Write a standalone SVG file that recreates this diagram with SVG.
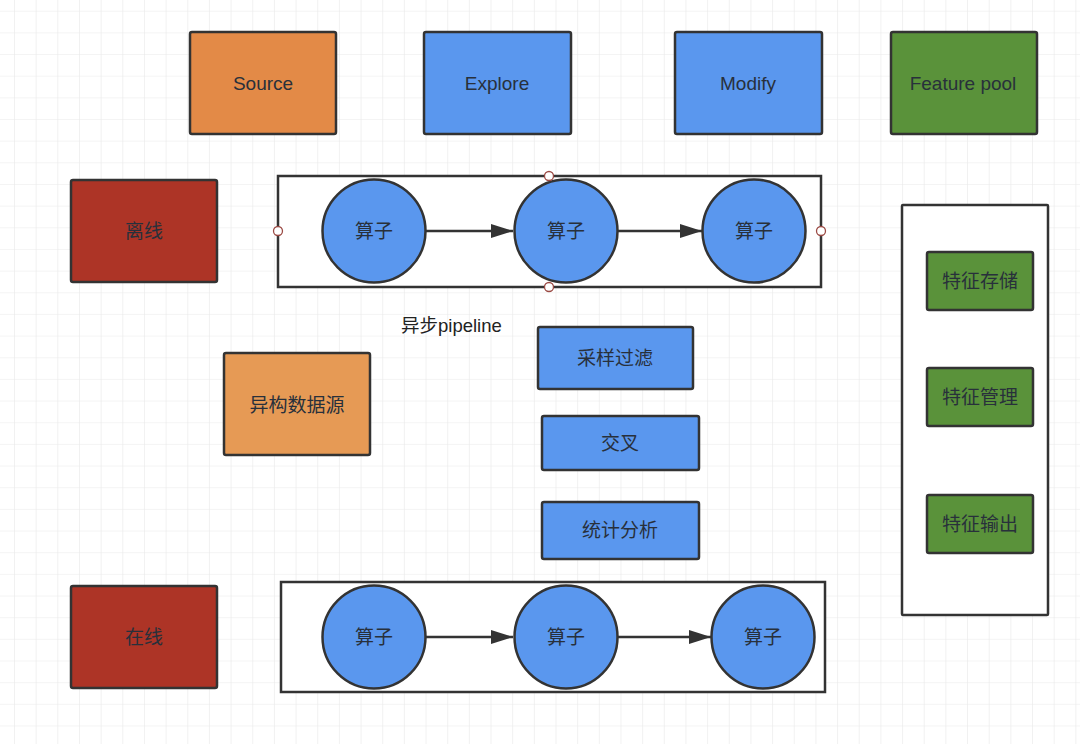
<svg xmlns="http://www.w3.org/2000/svg" width="1080" height="744" viewBox="0 0 1080 744">
  <defs>
    <pattern id="grid" x="14" y="10.7" width="21.66" height="21.66" patternUnits="userSpaceOnUse">
      <path d="M0 0V21.66M0 0H21.66" fill="none" stroke="#e9e9e9" stroke-width="1.2"/>
    </pattern>
    <marker id="arrow" viewBox="0 0 22 14" refX="22" refY="7" markerWidth="22" markerHeight="14" markerUnits="userSpaceOnUse" orient="auto">
      <path d="M0 0L22 7L0 14Z" fill="#333"/>
    </marker>
    <style>
      .box { stroke: #333; stroke-width: 2.5; }
      .frame { fill: #fff; stroke: #333; stroke-width: 2.5; }
      .orange { fill: #e38a47; }
      .orange2 { fill: #e69a55; }
      .blue { fill: #5a97ee; }
      .green { fill: #5a923a; }
      .red { fill: #ad3426; }
      .op { fill: #5a97ee; stroke: #333; stroke-width: 2.5; }
      .handle { fill: #fff; stroke: #9b4a44; stroke-width: 1.3; }
      text { font-family: "Helvetica Neue", "Liberation Sans", "Noto Sans CJK SC", sans-serif; font-size: 19px; fill: #28303b; text-anchor: middle; dominant-baseline: central; }
      .plain { font-size: 18.5px; fill: #222; text-anchor: start; }
      .link { stroke: #333; stroke-width: 2.5; fill: none; }
    </style>
  </defs>

  <rect width="1080" height="744" fill="#fff"/>
  <rect width="1080" height="744" fill="url(#grid)"/>

  <!-- top row: stages -->
  <g id="source"><rect class="box orange" x="190" y="32" width="146" height="102" rx="2"/><text x="263" y="83">Source</text></g>
  <g id="explore"><rect class="box blue" x="424" y="32" width="147" height="102" rx="2"/><text x="497" y="83">Explore</text></g>
  <g id="modify"><rect class="box blue" x="675" y="32" width="147" height="102" rx="2"/><text x="748" y="83">Modify</text></g>
  <g id="feature-pool"><rect class="box green" x="891" y="32" width="146" height="102" rx="2"/><text x="963" y="83">Feature pool</text></g>

  <!-- offline / online -->
  <g id="offline"><rect class="box red" x="71" y="180" width="146" height="102" rx="2"/><text x="144" y="231">离线</text></g>
  <g id="online"><rect class="box red" x="71" y="586" width="146" height="102" rx="2"/><text x="144" y="637">在线</text></g>
  <g id="hetero-source"><rect class="box orange2" x="224" y="353" width="146" height="102" rx="2"/><text x="297" y="405">异构数据源</text></g>

  <!-- offline pipeline -->
  <g id="offline-pipeline">
    <rect class="frame" x="278" y="176" width="543" height="111"/>
  </g>
  <g id="op1"><circle class="op" cx="374" cy="231" r="51.5"/><text x="374" y="231">算子</text></g>
  <g id="op2"><circle class="op" cx="566" cy="231" r="51.5"/><text x="566" y="231">算子</text></g>
  <g id="op3"><circle class="op" cx="754" cy="231" r="51.5"/><text x="754" y="231">算子</text></g>

  <!-- online pipeline -->
  <g id="online-pipeline">
    <rect class="frame" x="281" y="582" width="544" height="110"/>
  </g>
  <g id="op4"><circle class="op" cx="374" cy="637" r="51.5"/><text x="374" y="637">算子</text></g>
  <g id="op5"><circle class="op" cx="566" cy="637" r="51.5"/><text x="566" y="637">算子</text></g>
  <g id="op6"><circle class="op" cx="763" cy="637" r="51.5"/><text x="763" y="637">算子</text></g>

  <!-- connectors -->
  <g id="connectors">
    <line class="link" x1="426" y1="231" x2="513" y2="231" marker-end="url(#arrow)"/>
    <line class="link" x1="618" y1="231" x2="702" y2="231" marker-end="url(#arrow)"/>
    <line class="link" x1="426" y1="637" x2="513" y2="637" marker-end="url(#arrow)"/>
    <line class="link" x1="618" y1="637" x2="711" y2="637" marker-end="url(#arrow)"/>
  </g>

  <!-- selection handles on the offline pipeline frame -->
  <g id="handles">
    <circle class="handle" cx="278" cy="231" r="4.5"/>
    <circle class="handle" cx="549" cy="176" r="4.5"/>
    <circle class="handle" cx="549" cy="287" r="4.5"/>
    <circle class="handle" cx="821" cy="231" r="4.5"/>
  </g>

  <!-- async pipeline -->
  <g id="async-label"><text class="plain" x="401" y="325">异步pipeline</text></g>
  <g id="sampling"><rect class="box blue" x="538" y="327" width="155" height="62" rx="2"/><text x="615" y="358">采样过滤</text></g>
  <g id="cross"><rect class="box blue" x="542" y="416" width="157" height="54" rx="2"/><text x="620" y="443">交叉</text></g>
  <g id="stats"><rect class="box blue" x="542" y="502" width="157" height="57" rx="2"/><text x="620" y="530">统计分析</text></g>

  <!-- feature panel -->
  <g id="feature-panel"><rect class="frame" x="902" y="205" width="146" height="410" rx="1"/></g>
  <g id="feature-store"><rect class="box green" x="927" y="252" width="106" height="58" rx="2"/><text x="980" y="281">特征存储</text></g>
  <g id="feature-manage"><rect class="box green" x="927" y="368" width="106" height="58" rx="2"/><text x="980" y="397">特征管理</text></g>
  <g id="feature-output"><rect class="box green" x="927" y="495" width="106" height="58" rx="2"/><text x="980" y="524">特征输出</text></g>
</svg>
